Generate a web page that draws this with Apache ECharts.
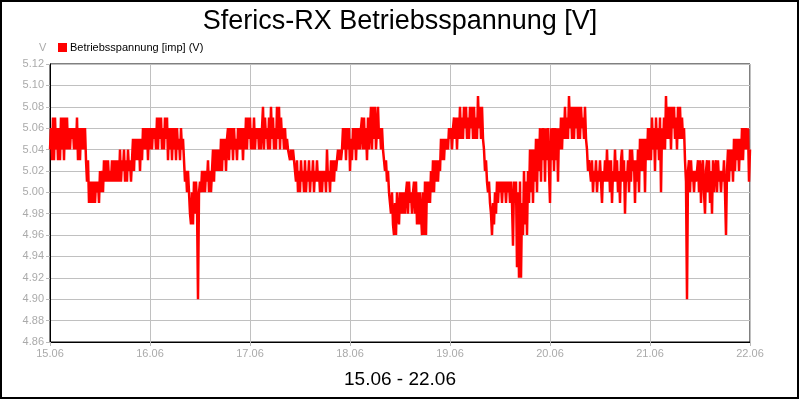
<!DOCTYPE html>
<html>
<head>
<meta charset="utf-8">
<title>Sferics-RX Betriebsspannung</title>
<script src="https://cdn.jsdelivr.net/npm/echarts@6/dist/echarts.min.js"></script>
<style>
  html, body { margin: 0; padding: 0; background: #fff; }
  #main { width: 800px; height: 400px; }
</style>
</head>
<body>
<div id="main"></div>
<script>
// x-axis day labels
var dayLabels = ['15.06', '16.06', '17.06', '18.06', '19.06', '20.06', '21.06', '22.06'];

// voltage samples, 100 per day (~15 min)
var day15 = [5.04,5.06,5.03,5.07,5.03,5.07,5.04,5.06,5.03,5.06,5.03,5.07,5.04,5.07,5.03,5.07,5.04,5.07,5.04,5.06,
  5.04,5.06,5.05,5.06,5.04,5.06,5.04,5.07,5.03,5.06,5.03,5.06,5.04,5.06,5.04,5.06,
  5.03,5.01,5.03,
  4.99,5.01,4.99,5.01,4.99,5.01,4.99,5.01,5.00,5.01,4.99,
  5.02,5.00,5.02,5.00,
  5.03,5.01,5.03,5.01,5.03,5.01,5.02,5.01,5.03,5.01,5.03,5.01,5.03,5.01,5.03,5.01,
  5.04,5.01,5.03,5.02,5.04,5.01,5.03,5.01,5.04,5.02,5.03,5.01,5.03,
  5.05,5.02,5.05,5.03,5.05,5.03,5.05,5.02,5.05,5.03,
  5.06,5.04,5.06,5.04,5.06,5.03,5.06];
var day16 = [5.04,5.06,5.04,5.06,5.05,5.06,5.04,
  5.07,5.04,5.07,5.05,5.07,5.04,5.06,5.04,5.07,5.05,5.07,
  5.03,5.06,5.04,5.06,5.03,5.06,5.04,5.06,5.03,5.06,5.04,5.05,5.03,5.06,5.04,5.05,
  5.03,5.01,5.02,5.00,5.02,5.00,
  4.98,4.97,5.00,4.97,5.01,4.98,5.01,4.99,
  4.90,5.00,
  5.01,5.00,5.02,5.00,5.02,5.00,5.02,5.01,5.03,5.00,5.02,5.00,5.02,
  5.04,5.01,5.04,5.02,5.04,5.02,5.04,5.02,5.05,5.02,5.05,5.03,5.05,5.02,5.05,
  5.06,5.03,5.06,5.04,5.06,5.03,5.06,5.04,5.05,5.03,5.06,5.04,5.06,5.04,5.06,5.03,5.06,
  5.04,5.07,5.04,5.07,5.05];
var day17 = [5.07,5.04,5.06,5.04,5.07,5.04,5.06,5.05,5.06,5.04,5.06,5.04,5.06,
  5.08,5.04,5.07,5.05,5.06,5.04,5.07,5.04,5.08,5.05,5.07,5.04,5.06,5.04,5.08,5.05,5.08,5.04,5.07,5.05,
  5.06,5.04,5.06,5.04,5.05,5.04,
  5.04,5.03,5.04,5.03,5.04,5.03,
  5.03,5.01,5.03,5.00,5.02,5.00,5.03,5.01,5.02,5.00,5.03,5.00,5.02,5.01,5.03,5.00,5.02,5.01,5.03,5.00,
  5.02,5.01,5.03,5.01,5.02,5.00,5.02,5.00,5.02,5.01,5.02,5.00,5.04,5.01,5.02,5.00,5.03,5.01,5.03,5.01,
  5.03,5.02,5.03,
  5.04,5.03,5.04,5.03,5.04,
  5.06,5.04,5.06,5.03,5.06,5.04,5.06];
var day18 = [5.02,5.05,5.03,5.06,5.04,5.06,5.03,5.06,5.04,5.06,5.04,5.06,
  5.07,5.04,5.07,5.04,5.06,5.03,5.07,5.04,
  5.06,5.08,5.04,5.08,5.05,5.08,5.04,5.06,5.08,5.05,
  5.06,5.04,5.06,5.04,
  5.04,5.02,5.03,5.01,5.02,5.00,
  5.00,4.98,5.00,4.97,
  4.96,4.99,4.96,
  5.00,4.98,4.97,5.00,4.98,5.00,4.98,5.00,4.98,5.00,5.01,4.98,5.01,4.99,5.00,4.98,5.00,5.01,4.98,5.01,
  4.97,5.00,4.97,5.00,4.98,4.96,5.00,4.96,5.01,
  4.96,5.01,4.99,5.01,4.99,5.02,5.00,
  5.03,5.00,5.03,5.01,5.03,5.01,5.03,5.02,
  5.05,5.03,5.05,5.03,5.05,5.04,5.05,5.04,5.06];
var day19 = [5.05,5.06,5.04,5.06,5.07,5.05,5.07,5.04,5.07,5.05,
  5.08,5.05,5.07,5.05,5.08,5.06,5.08,5.05,5.07,5.05,5.08,5.06,5.08,5.05,5.08,5.05,5.07,5.05,5.09,5.06,5.08,5.05,5.08,5.05,
  5.04,5.02,5.03,
  5.01,5.00,5.01,4.99,
  4.98,4.96,4.99,4.97,5.00,4.98,
  5.01,4.99,5.01,5.00,5.01,4.99,5.01,5.00,5.01,4.99,5.01,5.00,5.01,4.99,5.01,
  4.99,4.95,5.01,4.99,5.01,4.93,5.00,4.92,5.01,4.92,4.99,4.96,
  5.02,4.97,5.01,4.96,5.02,4.99,
  5.04,5.00,5.04,4.99,5.04,5.01,5.05,5.00,5.05,
  5.02,5.06,5.01,5.06,5.03,5.06,5.01,5.06,5.03,5.06,5.02];
var day20 = [4.99,
  5.06,5.03,5.06,5.02,5.06,5.03,5.06,5.01,5.06,5.04,5.07,5.04,5.07,
  5.05,5.08,5.05,5.07,5.05,5.09,5.06,5.08,5.05,5.08,5.05,5.08,5.06,5.08,5.05,5.08,5.05,5.08,5.06,5.07,5.05,5.08,5.05,
  5.04,5.02,5.03,
  5.03,5.01,5.03,5.00,5.02,5.01,5.03,5.00,5.02,5.01,
  5.03,5.01,4.99,5.02,5.01,5.03,5.01,5.04,5.01,5.03,
  5.00,5.03,4.99,5.02,5.01,5.04,5.01,5.03,5.00,5.02,
  4.99,5.03,5.04,5.01,5.03,4.98,5.02,5.01,5.03,5.00,
  5.04,5.01,5.04,5.02,5.03,4.99,5.03,
  5.01,5.04,5.00,5.05,5.02,5.05,5.02,5.05,5.00,5.05,5.03,5.06,5.03];
var day21 = [5.06,5.03,5.07,5.04,5.06,5.02,5.07,5.04,5.06,5.03,5.07,5.00,5.06,5.04,5.07,5.04,
  5.09,5.05,5.08,5.05,5.08,5.04,5.08,5.06,5.08,5.05,5.07,5.04,5.08,5.05,5.08,5.05,5.07,5.05,5.06,
  5.03,5.01,4.90,
  5.02,5.03,5.00,5.03,5.01,5.02,5.00,5.02,5.01,5.02,
  5.03,5.00,5.03,4.99,5.02,5.03,5.00,4.98,5.02,5.03,
  5.00,5.03,4.99,5.02,4.98,5.03,5.00,5.02,5.03,5.00,
  5.03,5.01,5.02,5.00,5.02,5.01,5.03,
  5.00,4.96,5.02,
  5.04,5.01,5.04,5.02,5.04,5.01,5.05,5.02,5.05,5.03,5.05,5.02,5.05,5.03,5.06,5.03,
  5.06,5.04,5.06,5.04,5.06,5.01,5.04];

var days = [day15, day16, day17, day18, day19, day20, day21];
var seriesData = [];
days.forEach(function (arr, d) {
  arr.forEach(function (v, i) {
    seriesData.push([d + i / 100, v]);
  });
});

var myChart = echarts.init(document.getElementById('main'));
myChart.setOption({
  animation: false,
  backgroundColor: '#fff',
  title: {
    text: 'Sferics-RX Betriebsspannung [V]',
    left: 'center',
    top: 3,
    textStyle: { fontFamily: 'Liberation Sans', fontSize: 27, fontWeight: 'normal', color: '#000' }
  },
  legend: {
    left: 53,
    top: 37,
    icon: 'rect',
    itemWidth: 9,
    itemHeight: 9,
    itemGap: 4,
    textStyle: { fontFamily: 'Liberation Sans', fontSize: 11, color: '#000', padding: [0, 0, 0, -2] },
    data: ['Betriebsspannung [imp] (V)']
  },
  grid: {
    left: 50, right: 50, top: 64, bottom: 58,
    show: true, borderColor: '#000', borderWidth: 1
  },
  xAxis: {
    type: 'value',
    min: 0, max: 7, interval: 1,
    axisLine: { lineStyle: { color: '#000' } },
    axisTick: { show: true, length: 4, lineStyle: { color: '#bbb' } },
    axisLabel: {
      color: '#aaa', fontFamily: 'Liberation Sans', fontSize: 11, margin: 6,
      formatter: function (v) { return dayLabels[Math.round(v)]; }
    },
    splitLine: { show: true, lineStyle: { color: '#c0c0c0' } }
  },
  yAxis: {
    type: 'value',
    min: 4.86, max: 5.12, interval: 0.02,
    axisLine: { show: true, lineStyle: { color: '#000' } },
    axisTick: { show: true, length: 4, lineStyle: { color: '#bbb' } },
    axisLabel: {
      color: '#aaa', fontFamily: 'Liberation Sans', fontSize: 11, margin: 6,
      formatter: function (v) { return v.toFixed(2); }
    },
    splitLine: { show: true, lineStyle: { color: '#c0c0c0' } }
  },
  graphic: [
    { type: 'rect', shape: { x: 1, y: 1, width: 797, height: 397 },
      style: { fill: 'none', stroke: '#000', lineWidth: 2 }, z: 100 },
    { type: 'text', left: 39, top: 42,
      style: { text: 'V', fill: '#aaa', font: '11px "Liberation Sans"' } },
    { type: 'text', left: 'center', top: 370,
      style: { text: '15.06 - 22.06', fill: '#000', font: '19px "Liberation Sans"' } }
  ],
  series: [{
    name: 'Betriebsspannung [imp] (V)',
    type: 'line',
    showSymbol: false,
    color: '#ff0000',
    lineStyle: { width: 2.5, color: '#ff0000' },
    data: seriesData
  }]
});
</script>
</body>
</html>
